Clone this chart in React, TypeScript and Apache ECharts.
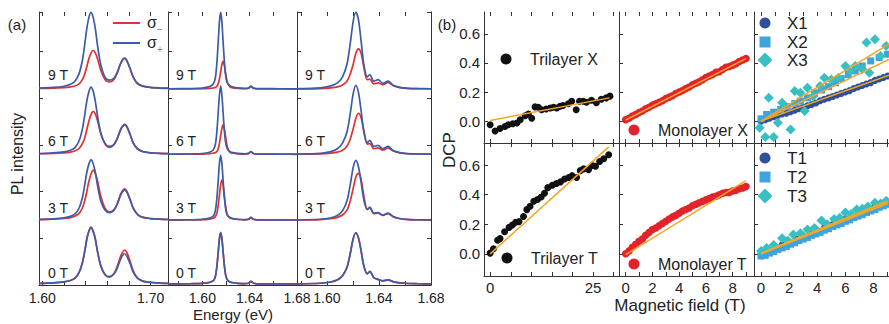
import React, { useEffect, useRef } from "react";
import * as echarts from "echarts";

const FONT = '"Liberation Sans", Arial, Helvetica, sans-serif';
const INK = "#222222";
const AXIS = "#333333";
const RED = "#e5302e";
const BLUE = "#3b5ca8";
const ORANGE = "#f5a623";
const BLACK_DOT = "#111111";
const RED_DOT = "#e3232b";
const NAVY = "#2d4f9c";
const SKY = "#3fa3dd";
const TEAL = "#37bfc3";

// ---------- Panel (a): PL spectra (values relative to each trace's baseline) ----------
const fieldLabels = ["0 T", "3 T", "6 T", "9 T"];
const fieldOffsets = [0.02, 1.39, 2.8, 4.2];

const energyLeft = [1.597, 1.61, 1.62, 1.626, 1.63, 1.634, 1.637, 1.639, 1.641, 1.643, 1.645, 1.647, 1.649, 1.651, 1.654, 1.658, 1.662, 1.666, 1.669, 1.672, 1.674, 1.676, 1.678, 1.681, 1.684, 1.688, 1.693, 1.7, 1.708, 1.716];
const left0Red = [0.015, 0.026, 0.046, 0.077, 0.12, 0.25, 0.46, 0.68, 0.95, 1.13, 1.22, 1.13, 0.96, 0.7, 0.39, 0.2, 0.16, 0.22, 0.37, 0.58, 0.68, 0.73, 0.68, 0.49, 0.28, 0.13, 0.063, 0.036, 0.022, 0.016];
const left0Blue = [0.015, 0.026, 0.045, 0.076, 0.12, 0.25, 0.45, 0.68, 0.95, 1.13, 1.21, 1.13, 0.96, 0.69, 0.39, 0.2, 0.15, 0.21, 0.33, 0.52, 0.61, 0.65, 0.6, 0.44, 0.25, 0.12, 0.058, 0.033, 0.02, 0.015];
const left3Red = [0.013, 0.021, 0.036, 0.055, 0.083, 0.145, 0.26, 0.4, 0.6, 0.83, 0.99, 1.07, 1.0, 0.84, 0.51, 0.25, 0.17, 0.22, 0.34, 0.54, 0.63, 0.67, 0.62, 0.45, 0.25, 0.12, 0.059, 0.033, 0.02, 0.014];
const left3Blue = [0.015, 0.027, 0.048, 0.08, 0.13, 0.26, 0.48, 0.73, 1.01, 1.2, 1.29, 1.21, 1.02, 0.74, 0.41, 0.21, 0.16, 0.21, 0.33, 0.52, 0.61, 0.65, 0.6, 0.44, 0.25, 0.12, 0.059, 0.033, 0.021, 0.015];
const left6Red = [0.012, 0.018, 0.031, 0.048, 0.072, 0.125, 0.23, 0.34, 0.52, 0.71, 0.85, 0.92, 0.86, 0.72, 0.44, 0.22, 0.15, 0.2, 0.33, 0.52, 0.6, 0.64, 0.6, 0.43, 0.24, 0.11, 0.056, 0.031, 0.019, 0.014];
const left6Blue = [0.016, 0.03, 0.053, 0.089, 0.14, 0.29, 0.54, 0.81, 1.13, 1.34, 1.44, 1.35, 1.13, 0.82, 0.46, 0.23, 0.17, 0.21, 0.33, 0.51, 0.59, 0.63, 0.59, 0.43, 0.24, 0.12, 0.059, 0.033, 0.022, 0.015];
const left9Red = [0.011, 0.017, 0.029, 0.044, 0.065, 0.11, 0.2, 0.31, 0.47, 0.65, 0.77, 0.83, 0.77, 0.65, 0.4, 0.2, 0.15, 0.2, 0.33, 0.53, 0.62, 0.66, 0.61, 0.44, 0.25, 0.11, 0.056, 0.031, 0.019, 0.013];
const left9Blue = [0.019, 0.033, 0.059, 0.1, 0.16, 0.33, 0.61, 0.92, 1.28, 1.53, 1.64, 1.53, 1.29, 0.93, 0.52, 0.25, 0.19, 0.23, 0.35, 0.53, 0.62, 0.66, 0.61, 0.44, 0.25, 0.12, 0.063, 0.036, 0.023, 0.017];

const energyMid = [1.571, 1.59, 1.6, 1.606, 1.609, 1.6105, 1.6115, 1.6125, 1.6135, 1.6145, 1.6155, 1.6165, 1.6175, 1.6185, 1.6195, 1.6205, 1.6215, 1.6235, 1.626, 1.63, 1.636, 1.639, 1.641, 1.643, 1.646, 1.655, 1.665, 1.68];
const mid0Red = [0.003, 0.007, 0.014, 0.035, 0.07, 0.125, 0.23, 0.43, 0.71, 0.98, 1.1, 0.99, 0.72, 0.44, 0.23, 0.13, 0.08, 0.045, 0.029, 0.016, 0.009, 0.018, 0.057, 0.022, 0.006, 0.004, 0.003, 0.002];
const mid0Blue = [0.003, 0.007, 0.013, 0.033, 0.067, 0.12, 0.22, 0.42, 0.7, 0.98, 1.11, 0.98, 0.7, 0.42, 0.22, 0.12, 0.078, 0.044, 0.028, 0.016, 0.009, 0.018, 0.057, 0.022, 0.006, 0.004, 0.003, 0.002];
const mid3Red = [0.003, 0.005, 0.009, 0.022, 0.039, 0.06, 0.095, 0.17, 0.33, 0.54, 0.76, 0.86, 0.76, 0.54, 0.33, 0.17, 0.095, 0.043, 0.026, 0.014, 0.007, 0.016, 0.055, 0.02, 0.004, 0.003, 0.003, 0.002];
const mid3Blue = [0.004, 0.008, 0.017, 0.042, 0.083, 0.15, 0.28, 0.53, 0.88, 1.22, 1.39, 1.22, 0.88, 0.53, 0.28, 0.15, 0.097, 0.056, 0.035, 0.019, 0.011, 0.02, 0.058, 0.023, 0.007, 0.006, 0.004, 0.003];
const mid6Red = [0.002, 0.004, 0.006, 0.013, 0.023, 0.032, 0.044, 0.069, 0.13, 0.24, 0.4, 0.55, 0.63, 0.55, 0.4, 0.24, 0.13, 0.044, 0.023, 0.011, 0.006, 0.015, 0.054, 0.019, 0.003, 0.003, 0.002, 0.001];
const mid6Blue = [0.004, 0.009, 0.018, 0.044, 0.088, 0.16, 0.29, 0.55, 0.92, 1.28, 1.46, 1.28, 0.92, 0.55, 0.29, 0.16, 0.1, 0.058, 0.037, 0.02, 0.012, 0.02, 0.059, 0.024, 0.007, 0.006, 0.004, 0.003];
const mid9Red = [0.002, 0.004, 0.006, 0.012, 0.021, 0.03, 0.041, 0.065, 0.12, 0.22, 0.37, 0.52, 0.59, 0.52, 0.37, 0.22, 0.12, 0.041, 0.021, 0.011, 0.005, 0.015, 0.054, 0.019, 0.003, 0.002, 0.002, 0.001];
const mid9Blue = [0.005, 0.01, 0.02, 0.05, 0.1, 0.18, 0.33, 0.63, 1.04, 1.45, 1.65, 1.45, 1.04, 0.63, 0.33, 0.18, 0.12, 0.066, 0.041, 0.023, 0.013, 0.022, 0.06, 0.025, 0.008, 0.007, 0.005, 0.003];

const energyRight = [1.577, 1.595, 1.603, 1.608, 1.612, 1.6155, 1.618, 1.6202, 1.6222, 1.6242, 1.6262, 1.6285, 1.631, 1.633, 1.636, 1.6393, 1.643, 1.647, 1.651, 1.656, 1.662, 1.67, 1.68];
const right0Red = [0.006, 0.017, 0.045, 0.09, 0.18, 0.37, 0.67, 0.97, 1.1, 1.0, 0.73, 0.38, 0.22, 0.27, 0.14, 0.1, 0.07, 0.09, 0.05, 0.025, 0.012, 0.007, 0.004];
const right0Blue = [0.006, 0.017, 0.044, 0.088, 0.18, 0.36, 0.66, 0.97, 1.1, 0.99, 0.72, 0.37, 0.22, 0.27, 0.14, 0.1, 0.07, 0.09, 0.05, 0.025, 0.012, 0.007, 0.004];
const right3Red = [0.004, 0.013, 0.033, 0.06, 0.11, 0.22, 0.42, 0.68, 0.92, 1.0, 0.88, 0.5, 0.23, 0.26, 0.14, 0.15, 0.1, 0.14, 0.07, 0.03, 0.013, 0.007, 0.004];
const right3Blue = [0.006, 0.019, 0.051, 0.1, 0.2, 0.42, 0.77, 1.13, 1.28, 1.15, 0.83, 0.42, 0.23, 0.28, 0.15, 0.16, 0.11, 0.15, 0.08, 0.035, 0.015, 0.008, 0.005];
const right6Red = [0.004, 0.011, 0.026, 0.048, 0.088, 0.18, 0.33, 0.55, 0.77, 0.88, 0.79, 0.5, 0.22, 0.23, 0.12, 0.14, 0.09, 0.14, 0.07, 0.03, 0.013, 0.007, 0.004];
const right6Blue = [0.007, 0.022, 0.059, 0.12, 0.24, 0.49, 0.89, 1.3, 1.48, 1.33, 0.95, 0.46, 0.25, 0.3, 0.17, 0.19, 0.12, 0.17, 0.08, 0.035, 0.015, 0.008, 0.005];
const right9Red = [0.003, 0.01, 0.026, 0.047, 0.086, 0.17, 0.33, 0.53, 0.76, 0.86, 0.77, 0.45, 0.2, 0.21, 0.11, 0.13, 0.09, 0.14, 0.07, 0.03, 0.013, 0.007, 0.004];
const right9Blue = [0.008, 0.025, 0.066, 0.13, 0.26, 0.54, 0.99, 1.45, 1.65, 1.49, 1.05, 0.5, 0.26, 0.31, 0.17, 0.2, 0.12, 0.17, 0.08, 0.035, 0.015, 0.008, 0.005];

const energyTicksLeft = [1.6, 1.62, 1.64, 1.66, 1.68, 1.7];
const energyLabelsLeft = [1.6, 1.7];
const energyTicksMid = [1.58, 1.6, 1.62, 1.64, 1.66, 1.68];
const energyLabelsMid = [1.6, 1.64, 1.68];

// ---------- Panel (b): DCP vs magnetic field ----------
const trilayerXField = [0, 1.2, 2.4, 3.6, 4.4, 5.5, 6.5, 7.3, 8.5, 9.3, 10.1, 10.9, 11.7, 12.5, 13.6, 14.6, 15.4, 16.2, 17.0, 17.7, 19.0, 19.8, 20.9, 21.7, 22.6, 23.4, 24.6, 25.8, 27.0, 28.2, 29.1];
const trilayerXDcp = [-0.025, -0.067, -0.05, -0.037, -0.025, -0.018, -0.013, 0.01, 0.037, 0.049, 0.02, 0.098, 0.095, 0.079, 0.084, 0.091, 0.095, 0.091, 0.102, 0.107, 0.12, 0.137, 0.079, 0.137, 0.137, 0.13, 0.144, 0.126, 0.15, 0.16, 0.172];
const trilayerTField = [0, 0.8, 1.8, 2.4, 3.5, 4.6, 5.4, 6.2, 7.0, 8.1, 8.9, 9.7, 10.6, 11.5, 12.4, 13.2, 14.0, 15.1, 16.1, 17.1, 18.1, 19.1, 19.9, 21.0, 21.9, 22.7, 23.9, 24.8, 25.6, 26.6, 27.6, 28.8];
const trilayerTDcp = [0.005, 0.034, 0.092, 0.103, 0.149, 0.179, 0.195, 0.214, 0.218, 0.253, 0.299, 0.322, 0.356, 0.368, 0.384, 0.41, 0.448, 0.464, 0.476, 0.487, 0.506, 0.517, 0.529, 0.517, 0.563, 0.575, 0.57, 0.598, 0.593, 0.625, 0.644, 0.671];

const monoField = [0, 0.25, 0.5, 0.75, 1, 1.25, 1.5, 1.75, 2, 2.25, 2.5, 2.75, 3, 3.25, 3.5, 3.75, 4, 4.25, 4.5, 4.75, 5, 5.25, 5.5, 5.75, 6, 6.25, 6.5, 6.75, 7, 7.25, 7.5, 7.75, 8, 8.25, 8.5, 8.75, 9];
const monoXDcp = [0.01, 0.02, 0.035, 0.045, 0.06, 0.07, 0.085, 0.095, 0.11, 0.12, 0.13, 0.14, 0.155, 0.165, 0.175, 0.19, 0.2, 0.21, 0.225, 0.235, 0.25, 0.26, 0.27, 0.285, 0.3, 0.31, 0.32, 0.335, 0.34, 0.355, 0.37, 0.375, 0.385, 0.395, 0.41, 0.42, 0.43];
const monoTDcp = [0, 0.02, 0.045, 0.065, 0.085, 0.1, 0.125, 0.145, 0.165, 0.175, 0.19, 0.205, 0.22, 0.235, 0.25, 0.26, 0.275, 0.29, 0.3, 0.31, 0.325, 0.335, 0.345, 0.355, 0.365, 0.375, 0.385, 0.39, 0.4, 0.41, 0.415, 0.415, 0.425, 0.43, 0.44, 0.445, 0.455];

const x1Field = [0, 0.3, 0.6, 0.9, 1.2, 1.5, 1.8, 2.1, 2.4, 2.7, 3, 3.3, 3.6, 3.9, 4.2, 4.5, 4.8, 5.1, 5.4, 5.7, 6, 6.3, 6.6, 6.9, 7.2, 7.5, 7.8, 8.1, 8.4, 8.7, 9];
const x1Dcp = [0, 0.01, 0.02, 0.03, 0.04, 0.05, 0.055, 0.065, 0.075, 0.085, 0.095, 0.105, 0.115, 0.125, 0.14, 0.15, 0.16, 0.17, 0.18, 0.19, 0.2, 0.21, 0.225, 0.235, 0.245, 0.255, 0.265, 0.28, 0.29, 0.3, 0.31];
const x2Field = [0, 0.4, 0.9, 1.4, 1.9, 2.4, 2.8, 3.3, 3.8, 4.3, 4.8, 5.3, 5.7, 6.2, 6.7, 7.2, 7.8, 8.4, 9.0];
const x2Dcp = [0.016, 0.046, 0.062, 0.08, 0.1, 0.122, 0.138, 0.16, 0.195, 0.214, 0.237, 0.264, 0.292, 0.32, 0.345, 0.379, 0.414, 0.437, 0.46];
const x3Field = [-0.1, 0.3, 0.9, 0.55, 1.2, 2.1, 1.5, 2.4, 2.8, 3.1, 3.3, 3.7, 4.2, 4.5, 5.0, 5.5, 6.0, 6.3, 6.7, 7.2, 7.7, 7.5, 8.1, 8.5, 8.9];
const x3Dcp = [-0.046, -0.108, -0.108, 0.161, -0.011, -0.057, 0.126, 0.207, 0.195, 0.069, 0.23, 0.172, 0.241, 0.299, 0.287, 0.299, 0.379, 0.345, 0.379, 0.356, 0.333, 0.54, 0.563, 0.448, 0.517];

const t1Field = [0, 0.5, 1, 1.5, 2, 2.5, 3, 3.5, 4, 4.5, 5, 5.5, 6, 6.5, 7, 7.5, 8, 8.5, 9];
const t1Dcp = [0, 0.02, 0.04, 0.06, 0.08, 0.1, 0.12, 0.135, 0.155, 0.175, 0.195, 0.215, 0.235, 0.255, 0.27, 0.29, 0.31, 0.33, 0.35];
const t2Field = [0, 0.3, 0.6, 0.9, 1.2, 1.5, 1.8, 2.1, 2.4, 2.7, 3, 3.3, 3.6, 3.9, 4.2, 4.5, 4.8, 5.1, 5.4, 5.7, 6, 6.3, 6.6, 6.9, 7.2, 7.5, 7.8, 8.1, 8.4, 8.7, 9];
const t2Dcp = [-0.015, -0.01, 0.005, 0.015, 0.03, 0.04, 0.05, 0.065, 0.075, 0.09, 0.1, 0.11, 0.125, 0.135, 0.145, 0.16, 0.17, 0.185, 0.195, 0.205, 0.22, 0.23, 0.245, 0.255, 0.265, 0.28, 0.29, 0.3, 0.315, 0.325, 0.335];
const t3Field = [0, 0.4, 0.9, 1.5, 1.9, 2.3, 2.8, 3.3, 3.8, 4.3, 4.7, 5.2, 5.6, 6.0, 6.4, 6.8, 7.2, 7.6, 8.1, 8.5, 8.9];
const t3Dcp = [0.02, 0.04, 0.06, 0.105, 0.09, 0.13, 0.14, 0.165, 0.175, 0.225, 0.2, 0.235, 0.245, 0.28, 0.27, 0.3, 0.305, 0.32, 0.345, 0.34, 0.36];

// linear fits (end points)
const fitTrilayerXField = [0, 29];
const fitTrilayerXDcp = [0.005, 0.16];
const fitTrilayerTField = [0, 28.8];
const fitTrilayerTDcp = [0, 0.724];
const fitMonoField = [0, 9];
const fitMonoXDcp = [0.008, 0.43];
const fitMonoTDcp = [-0.005, 0.495];
const fitXField = [0, 9.1];
const fitX1Dcp = [0, 0.315];
const fitX2Dcp = [0, 0.425];
const fitX3Dcp = [0, 0.53];
const fitTField = [0, 9];
const fitT1Dcp = [0, 0.35];
const fitT2Dcp = [0, 0.34];
const fitT3Dcp = [0.005, 0.36];

const dcpTicks = [0, 0.2, 0.4, 0.6];
const trilayerFieldTicks = [0, 5, 10, 15, 20, 25, 30];
const trilayerFieldLabels = [0, 25];
const monoFieldTicks = [0, 1, 2, 3, 4, 5, 6, 7, 8, 9];
const monoFieldLabels = [0, 2, 4, 6, 8];

const zip = (xs: number[], ys: number[], off = 0) => xs.map((x, i) => [x, ys[i] + off]);

function buildOption() {
  const gridsA = [
    { left: 39, top: 12, width: 129, height: 273 },
    { left: 168, top: 12, width: 129, height: 273 },
    { left: 297, top: 12, width: 134, height: 273 },
  ];
  const gridsB = [
    { left: 484, top: 12, width: 135, height: 131 },
    { left: 619, top: 12, width: 135, height: 131 },
    { left: 754, top: 12, width: 135, height: 131 },
    { left: 484, top: 143, width: 135, height: 133 },
    { left: 619, top: 143, width: 135, height: 133 },
    { left: 754, top: 143, width: 135, height: 133 },
  ];
  const grid = [...gridsA, ...gridsB].map((g) => ({ ...g, outerBoundsMode: "none", containLabel: false }));

  const line = { show: true, onZero: false, lineStyle: { color: AXIS, width: 1 } };
  const noLine = { show: false, onZero: false };
  const tick = (vals: number[] | null) => ({
    show: true,
    inside: true,
    length: 4,
    ...(vals ? { customValues: vals } : {}),
    lineStyle: { color: AXIS, width: 1 },
  });
  const labelStyle = { color: INK, fontFamily: FONT };

  const xAxis: any[] = [];
  const yAxis: any[] = [];

  const aRanges = [
    [1.597, 1.716],
    [1.571, 1.68],
    [1.577, 1.68],
  ];
  const aTicks = [energyTicksLeft, energyTicksMid, energyTicksMid];
  const aLabels = [energyLabelsLeft, energyLabelsMid, energyLabelsMid];
  for (let p = 0; p < 3; p++) {
    xAxis.push({
      type: "value", gridIndex: p, position: "bottom", min: aRanges[p][0], max: aRanges[p][1],
      axisLine: line, axisTick: tick(aTicks[p]), splitLine: { show: false },
      axisLabel: { show: true, customValues: aLabels[p], formatter: (v: number) => v.toFixed(2), fontSize: 14, margin: 6, ...labelStyle },
    });
    xAxis.push({
      type: "value", gridIndex: p, position: "top", min: aRanges[p][0], max: aRanges[p][1],
      axisLine: noLine, axisTick: tick(aTicks[p]), splitLine: { show: false }, axisLabel: { show: false },
    });
  }
  for (let p = 0; p < 3; p++) {
    yAxis.push({
      type: "value", gridIndex: p, position: "left", min: 0, max: 5.85, interval: 1,
      axisLine: line, axisTick: tick(null), axisLabel: { show: false }, splitLine: { show: false },
    });
  }
  for (let k = 0; k < 6; k++) {
    const g = 3 + k;
    const col = k % 3;
    const row = Math.floor(k / 3);
    const range = col === 0 ? [-1.5, 31.3] : col === 1 ? [-0.5, 9.6] : [-0.5, 9.1];
    const ticks = col === 0 ? trilayerFieldTicks : monoFieldTicks;
    const labels = col === 0 ? trilayerFieldLabels : monoFieldLabels;
    xAxis.push({
      type: "value", gridIndex: g, position: "bottom", min: range[0], max: range[1],
      axisLine: line, axisTick: tick(ticks), splitLine: { show: false },
      axisLabel: { show: row === 1, customValues: labels, formatter: (v: number) => String(v), fontSize: 15, margin: 4, ...labelStyle },
    });
    xAxis.push({
      type: "value", gridIndex: g, position: "top", min: range[0], max: range[1],
      axisLine: noLine, axisTick: tick(ticks), splitLine: { show: false }, axisLabel: { show: false },
    });
    yAxis.push({
      type: "value", gridIndex: g, position: "left", min: -0.15, max: 0.75,
      axisLine: line, axisTick: tick(dcpTicks), splitLine: { show: false },
      axisLabel: { show: col === 0, customValues: dcpTicks, formatter: (v: number) => v.toFixed(1), fontSize: 15, margin: 4, ...labelStyle },
    });
  }
  // right border of the last spectrum panel (index 9)
  yAxis.push({
    type: "value", gridIndex: 2, position: "right", min: 0, max: 5.85, interval: 1,
    axisLine: line, axisTick: tick(null), axisLabel: { show: false }, splitLine: { show: false },
  });

  const series: any[] = [];
  const energies = [energyLeft, energyMid, energyRight];
  const reds = [
    [left0Red, left3Red, left6Red, left9Red],
    [mid0Red, mid3Red, mid6Red, mid9Red],
    [right0Red, right3Red, right6Red, right9Red],
  ];
  const blues = [
    [left0Blue, left3Blue, left6Blue, left9Blue],
    [mid0Blue, mid3Blue, mid6Blue, mid9Blue],
    [right0Blue, right3Blue, right6Blue, right9Blue],
  ];
  for (let p = 0; p < 3; p++) {
    for (let f = 0; f < 4; f++) {
      series.push({
        type: "line", xAxisIndex: 2 * p, yAxisIndex: p, data: zip(energies[p], reds[p][f], fieldOffsets[f]),
        showSymbol: false, smooth: 0.3, silent: true, z: 2,
        lineStyle: { color: RED, width: 1.7 }, itemStyle: { color: RED },
      });
      series.push({
        type: "line", xAxisIndex: 2 * p, yAxisIndex: p, data: zip(energies[p], blues[p][f], fieldOffsets[f]),
        showSymbol: false, smooth: 0.3, silent: true, z: 3,
        lineStyle: { color: BLUE, width: 1.7 }, itemStyle: { color: BLUE },
      });
    }
  }

  const sc = (g: number, xs: number[], ys: number[], symbol: string, size: number, color: string) =>
    series.push({
      type: "scatter", xAxisIndex: 2 * g, yAxisIndex: g, data: zip(xs, ys), symbol, symbolSize: size,
      silent: true, z: 3, itemStyle: { color, opacity: 1 },
    });
  const fit = (g: number, xs: number[], ys: number[]) =>
    series.push({
      type: "line", xAxisIndex: 2 * g, yAxisIndex: g, data: zip(xs, ys), showSymbol: false, silent: true, z: 5,
      lineStyle: { color: ORANGE, width: 1.5 }, itemStyle: { color: ORANGE },
    });

  sc(3, trilayerXField, trilayerXDcp, "circle", 7, BLACK_DOT);
  fit(3, fitTrilayerXField, fitTrilayerXDcp);
  sc(4, monoField, monoXDcp, "circle", 7.5, RED_DOT);
  fit(4, fitMonoField, fitMonoXDcp);
  sc(5, x1Field, x1Dcp, "circle", 7, NAVY);
  sc(5, x2Field, x2Dcp, "rect", 7, SKY);
  sc(5, x3Field, x3Dcp, "diamond", 10, TEAL);
  fit(5, fitXField, fitX1Dcp);
  fit(5, fitXField, fitX2Dcp);
  fit(5, fitXField, fitX3Dcp);
  sc(6, trilayerTField, trilayerTDcp, "circle", 7, BLACK_DOT);
  fit(6, fitTrilayerTField, fitTrilayerTDcp);
  sc(7, monoField, monoTDcp, "circle", 7.5, RED_DOT);
  fit(7, fitMonoField, fitMonoTDcp);
  sc(8, t1Field, t1Dcp, "circle", 7, NAVY);
  sc(8, t2Field, t2Dcp, "rect", 7, SKY);
  sc(8, t3Field, t3Dcp, "diamond", 10, TEAL);
  fit(8, fitTField, fitT1Dcp);
  fit(8, fitTField, fitT2Dcp);
  fit(8, fitTField, fitT3Dcp);

  const txt = (text: string, x: number, y: number, size: number, opts: any = {}) => ({
    type: "text", x, y, rotation: opts.rotation || 0, silent: true, z: 100,
    style: {
      text, fill: opts.color || INK, fontSize: size, fontFamily: FONT,
      align: opts.align || "center", verticalAlign: "middle",
      textAlign: opts.align || "center", textVerticalAlign: "middle",
    },
  });
  const dot = (cx: number, cy: number, r: number, color: string) => ({
    type: "circle", silent: true, z: 100, shape: { cx, cy, r }, style: { fill: color },
  });
  const square = (cx: number, cy: number, s: number, color: string) => ({
    type: "rect", silent: true, z: 100, shape: { x: cx - s / 2, y: cy - s / 2, width: s, height: s }, style: { fill: color },
  });
  const diamond = (cx: number, cy: number, h: number, color: string) => ({
    type: "polygon", silent: true, z: 100,
    shape: { points: [[cx, cy - h], [cx + h, cy], [cx, cy + h], [cx - h, cy]] }, style: { fill: color },
  });

  const fieldLabelX = [58, 186, 315];
  const fieldLabelY = [273, 208, 141, 75];
  const graphic: any[] = [
    txt("(a)", 17, 24, 15),
    txt("(b)", 447, 24, 15),
    txt("PL intensity", 17, 154, 16, { rotation: Math.PI / 2 }),
    txt("Energy (eV)", 233, 314, 15),
    txt("DCP", 449, 150, 17, { rotation: Math.PI / 2 }),
    txt("Magnetic field (T)", 680, 305, 17),
    { type: "line", silent: true, z: 100, shape: { x1: 113, y1: 23, x2: 140, y2: 23 }, style: { stroke: RED, lineWidth: 2 } },
    { type: "line", silent: true, z: 100, shape: { x1: 113, y1: 43, x2: 140, y2: 43 }, style: { stroke: BLUE, lineWidth: 2 } },
    txt("σ", 147, 22, 16, { align: "left" }),
    txt("−", 157, 29, 10, { align: "left", color: "#777" }),
    txt("σ", 147, 42, 16, { align: "left" }),
    txt("+", 157, 49, 10, { align: "left", color: "#888" }),
    dot(506, 59, 5.5, BLACK_DOT),
    txt("Trilayer X", 530, 59, 16, { align: "left" }),
    dot(634, 130, 5.5, RED_DOT),
    txt("Monolayer X", 658, 130, 16, { align: "left" }),
    dot(507, 258, 5.5, BLACK_DOT),
    txt("Trilayer T", 531, 258, 16, { align: "left" }),
    dot(634, 264, 5.5, RED_DOT),
    txt("Monolayer T", 658, 264, 16, { align: "left" }),
    dot(765, 23, 5.5, NAVY),
    txt("X1", 787, 23, 17, { align: "left" }),
    square(765, 42, 11, SKY),
    txt("X2", 787, 42, 17, { align: "left" }),
    diamond(765, 60, 7.5, TEAL),
    txt("X3", 787, 60, 17, { align: "left" }),
    dot(765, 158, 5.5, NAVY),
    txt("T1", 787, 158, 17, { align: "left" }),
    square(765, 177, 11, SKY),
    txt("T2", 787, 177, 17, { align: "left" }),
    diamond(765, 196, 7.5, TEAL),
    txt("T3", 787, 196, 17, { align: "left" }),
  ];
  for (let p = 0; p < 3; p++) {
    for (let f = 0; f < 4; f++) {
      graphic.push(txt(fieldLabels[f], fieldLabelX[p], fieldLabelY[f], 14));
    }
  }

  return {
    animation: false,
    backgroundColor: "#ffffff",
    textStyle: { fontFamily: FONT },
    grid,
    xAxis,
    yAxis,
    series,
    graphic,
  };
}

export default function App() {
  const ref = useRef<HTMLDivElement>(null);
  useEffect(() => {
    if (!ref.current) return;
    const chart = echarts.init(ref.current, undefined, { renderer: "svg" });
    chart.setOption(buildOption() as any);
    return () => chart.dispose();
  }, []);
  return (
    <div
      ref={ref}
      style={{ position: "absolute", left: 0, top: 0, width: 889, height: 324, background: "#fff" }}
    />
  );
}
